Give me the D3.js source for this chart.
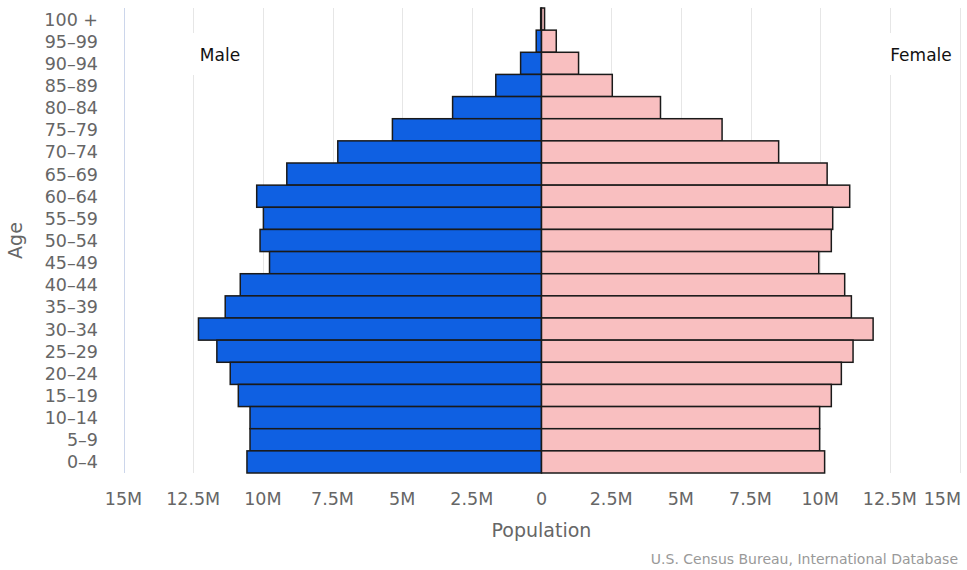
<!DOCTYPE html>
<html>
<head>
<meta charset="utf-8">
<script src="https://cdn.jsdelivr.net/npm/d3@7"></script>
<style>
  body { margin: 0; background: #fff; }
  svg { display: block; font-family: "DejaVu Sans", sans-serif; }
</style>
</head>
<body>
<svg id="chart" width="967" height="570"></svg>
<script>
// age groups, top to bottom
const ageGroups = [
  "100 +", "95–99", "90–94", "85–89", "80–84", "75–79", "70–74",
  "65–69", "60–64", "55–59", "50–54", "45–49", "40–44", "35–39",
  "30–34", "25–29", "20–24", "15–19", "10–14", "5–9", "0–4",
];

// population in millions, same order as ageGroups
const male = [
  0.03, 0.19, 0.75, 1.64, 3.19, 5.35, 7.31,
  9.14, 10.22, 9.98, 10.10, 9.76, 10.81, 11.35,
  12.31, 11.65, 11.17, 10.88, 10.46, 10.46, 10.57,
];
const female = [
  0.11, 0.53, 1.33, 2.54, 4.27, 6.48, 8.51,
  10.25, 11.06, 10.45, 10.40, 9.95, 10.88, 11.12,
  11.90, 11.18, 10.76, 10.40, 9.98, 9.98, 10.16,
];

const xTicks = [-15, -12.5, -10, -7.5, -5, -2.5, 0, 2.5, 5, 7.5, 10, 12.5, 15];

const svg = d3.select("#chart");
const plot = { left: 123.5, right: 959.5, top: 8, bottom: 473 };

const x = d3.scaleLinear().domain([-15, 15]).range([plot.left, plot.right]);
const y = d3.scaleBand().domain(ageGroups).range([plot.top, plot.bottom]).padding(0);

const fmt = (v) => (v === 0 ? "0" : Math.abs(v) + "M");

// grid lines
svg.append("g")
  .selectAll("line")
  .data(xTicks.filter((d) => d !== -15))
  .join("line")
  .attr("x1", (d) => Math.round(x(d)) + 0.5)
  .attr("x2", (d) => Math.round(x(d)) + 0.5)
  .attr("y1", plot.top)
  .attr("y2", plot.bottom)
  .attr("stroke", "#e6e6e6");

// left axis line
svg.append("line")
  .attr("x1", Math.round(x(-15)) + 0.5)
  .attr("x2", Math.round(x(-15)) + 0.5)
  .attr("y1", plot.top)
  .attr("y2", plot.bottom)
  .attr("stroke", "#ccd6eb");

// series labels with white boxes over the grid
const tags = [
  { text: "Male", x: 220, boxX: 190, boxW: 60 },
  { text: "Female", x: 921, boxX: 884, boxW: 74 },
];
const tagG = svg.append("g");
tagG.selectAll("rect")
  .data(tags)
  .join("rect")
  .attr("x", (d) => d.boxX)
  .attr("y", 33)
  .attr("width", (d) => d.boxW)
  .attr("height", 42)
  .attr("fill", "#fff");
tagG.selectAll("text")
  .data(tags)
  .join("text")
  .attr("x", (d) => d.x)
  .attr("y", 61)
  .attr("text-anchor", "middle")
  .attr("font-size", 17)
  .attr("fill", "#111")
  .text((d) => d.text);

// bars
const bars = svg.append("g")
  .attr("stroke", "#1a1a1a")
  .attr("stroke-width", 1.5);

bars.selectAll(".male")
  .data(ageGroups.map((a, i) => ({ age: a, v: male[i] })))
  .join("rect")
  .attr("class", "male")
  .attr("x", (d) => x(-d.v))
  .attr("y", (d) => y(d.age))
  .attr("width", (d) => x(0) - x(-d.v))
  .attr("height", y.bandwidth())
  .attr("fill", "#0f60e2");

bars.selectAll(".female")
  .data(ageGroups.map((a, i) => ({ age: a, v: female[i] })))
  .join("rect")
  .attr("class", "female")
  .attr("x", x(0))
  .attr("y", (d) => y(d.age))
  .attr("width", (d) => x(d.v) - x(0))
  .attr("height", y.bandwidth())
  .attr("fill", "#f9bfc0");

// x axis labels
svg.append("g")
  .selectAll("text")
  .data(xTicks)
  .join("text")
  .attr("x", (d) => (d === 15 ? 961 : x(d)))
  .attr("y", 505)
  .attr("text-anchor", (d) => (d === 15 ? "end" : "middle"))
  .attr("font-size", 17.5)
  .attr("fill", "#666")
  .text(fmt);

// y axis labels
svg.append("g")
  .selectAll("text")
  .data(ageGroups)
  .join("text")
  .attr("x", 98)
  .attr("y", (d) => y(d) + y.bandwidth() / 2 + 6.5)
  .attr("text-anchor", "end")
  .attr("font-size", 17.5)
  .attr("fill", "#666")
  .text((d) => d);

// axis titles
svg.append("text")
  .attr("transform", `translate(22,${(plot.top + plot.bottom) / 2}) rotate(-90)`)
  .attr("text-anchor", "middle")
  .attr("font-size", 19)
  .attr("fill", "#666")
  .text("Age");

svg.append("text")
  .attr("x", x(0))
  .attr("y", 537)
  .attr("text-anchor", "middle")
  .attr("font-size", 19)
  .attr("fill", "#666")
  .text("Population");

// credit
svg.append("text")
  .attr("x", 958)
  .attr("y", 564)
  .attr("text-anchor", "end")
  .attr("font-size", 14)
  .attr("fill", "#999")
  .text("U.S. Census Bureau, International Database");
</script>
</body>
</html>
